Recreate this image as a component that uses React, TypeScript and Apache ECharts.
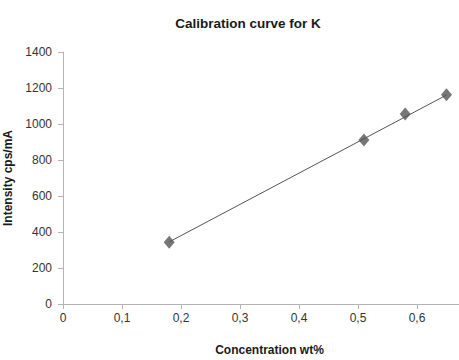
import React, { useEffect, useRef } from "react";
import * as echarts from "echarts";

const concentration = [0.18, 0.51, 0.58, 0.65];
const intensity = [343, 911, 1055, 1163];
const trendX = [0.18, 0.65];
const trendY = [345, 1161];
const xTicks = [0, 0.1, 0.2, 0.3, 0.4, 0.5, 0.6];

export default function App() {
  const ref = useRef<HTMLDivElement>(null);
  useEffect(() => {
    document.body.style.margin = "0";
    const chart = echarts.init(ref.current!, null, { renderer: "svg" });
    const font = "'Liberation Sans', Arial, sans-serif";
    chart.setOption({
      animation: false,
      backgroundColor: "#ffffff",
      title: {
        text: "Calibration curve for K",
        left: 243,
        top: 11,
        textAlign: "center",
        textStyle: { fontFamily: font, fontSize: 13.5, fontWeight: "bold", color: "#1a1a1a" },
      },
      grid: { left: 63, right: -17, top: 52, bottom: 56, containLabel: false, outerBoundsMode: "none" },
      xAxis: {
        type: "value",
        min: 0,
        max: 0.7,
        interval: 0.1,
        name: "Concentration wt%",
        nameLocation: "middle",
        nameGap: 40,
        nameTextStyle: { fontFamily: font, fontSize: 12, fontWeight: "bold", color: "#1a1a1a" },
        axisLine: { show: true, lineStyle: { color: "#b4b4b4", width: 1 } },
        axisTick: { show: true, length: 5, inside: false, lineStyle: { color: "#b4b4b4" } },
        splitLine: { show: false },
        axisLabel: {
          fontFamily: font,
          fontSize: 12,
          color: "#333",
          margin: 8,
          formatter: (v: number) => {
            const t = xTicks.find((x) => Math.abs(x - v) < 1e-9);
            if (t === undefined) return "";
            return t === 0 ? "0" : t.toFixed(1).replace(".", ",");
          },
        },
      },
      yAxis: {
        type: "value",
        min: 0,
        max: 1400,
        interval: 200,
        name: "Intensity cps/mA",
        nameLocation: "middle",
        nameGap: 41,
        nameTextStyle: { fontFamily: font, fontSize: 12, fontWeight: "bold", color: "#1a1a1a" },
        axisLine: { show: true, lineStyle: { color: "#b4b4b4", width: 1 } },
        axisTick: { show: true, length: 5, lineStyle: { color: "#b4b4b4" } },
        splitLine: { show: false },
        axisLabel: { fontFamily: font, fontSize: 12, color: "#333", margin: 11, formatter: (v: number) => String(v) },
      },
      series: [
        {
          type: "line",
          data: trendX.map((x, i) => [x, trendY[i]]),
          showSymbol: false,
          symbol: "none",
          lineStyle: { color: "#555", width: 1 },
          silent: true,
          z: 3,
        },
        {
          type: "scatter",
          data: concentration.map((x, i) => [x, intensity[i]]),
          symbol: "diamond",
          symbolSize: [11, 13],
          itemStyle: { color: "#555555" },
          z: 2,
        },
      ],
    });
    return () => chart.dispose();
  }, []);
  return (
    <div
      ref={ref}
      style={{ position: "fixed", left: 0, top: 0, width: 459, height: 360, overflow: "hidden" }}
    />
  );
}
